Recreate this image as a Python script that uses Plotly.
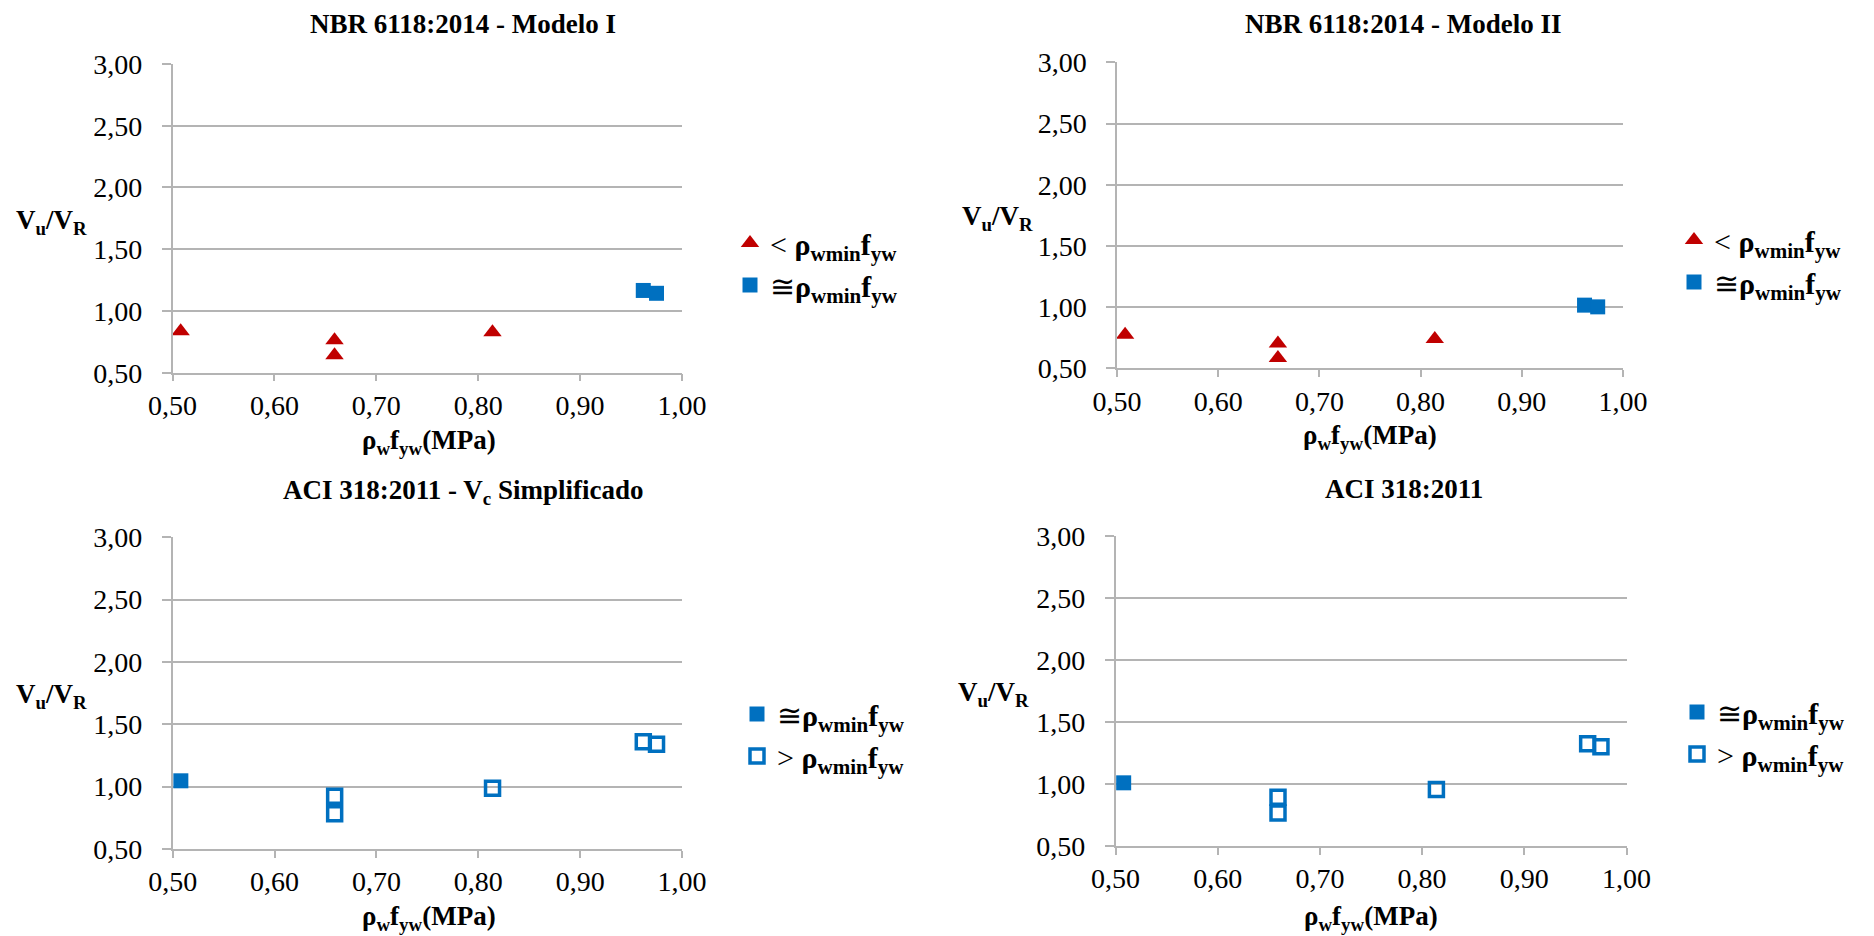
import plotly.graph_objects as go

# ---------------- data ----------------
x_vals = [0.508, 0.659, 0.659, 0.814, 0.962, 0.975]

# NBR 6118:2014 - Modelo I
p1_below_y = [0.835, 0.763, 0.641, 0.827]
p1_approx_y = [1.166, 1.143]
# NBR 6118:2014 - Modelo II
p2_below_y = [0.774, 0.703, 0.585, 0.739]
p2_approx_y = [1.016, 1.002]
# ACI 318:2011 - Vc Simplificado
p3_approx_y = [1.047]
p3_above_y = [0.924, 0.783, 0.987, 1.360, 1.340]
# ACI 318:2011
p4_approx_y = [1.010]
p4_above_y = [0.893, 0.766, 0.957, 1.326, 1.302]

titles = [
    "<b>NBR 6118:2014 - Modelo I</b>",
    "<b>NBR 6118:2014 - Modelo II</b>",
    "<b>ACI 318:2011 - V<sub>c</sub> Simplificado</b>",
    "<b>ACI 318:2011</b>",
]
name_below = "&lt; <b>ρ<sub>wmin</sub>f<sub>yw</sub></b>"
name_approx = "≅<b>ρ<sub>wmin</sub>f<sub>yw</sub></b>"
name_above = "&gt; <b>ρ<sub>wmin</sub>f<sub>yw</sub></b>"
y_title = "<b>V<sub>u</sub>/V<sub>R</sub></b>"
x_title = "<b>ρ<sub>w</sub>f<sub>yw</sub>(MPa)</b>"

x_ticks = [0.5, 0.6, 0.7, 0.8, 0.9, 1.0]
y_ticks = [0.5, 1.0, 1.5, 2.0, 2.5, 3.0]

# ---------------- layout helpers ----------------
W, H = 1874, 936
FONT = "Liberation Serif, Times New Roman, DejaVu Serif, serif"
RED = "#C00000"
BLUE = "#0070C0"
GRID = "#B4B4B4"


def px(x):
    return x / W


def py(y):
    return 1 - y / H


# plot-area pixel boxes in window coordinates: (left, right, top, bottom)
boxes = [
    (172.5, 682.0, 64.0, 372.7),
    (1117.0, 1623.0, 62.3, 368.3),
    (172.7, 682.0, 537.3, 849.0),
    (1115.5, 1626.5, 536.3, 846.0),
]
# titles: (x centre, y of box top)
title_pos = [(463, 8), (1403, 8), (463, 474), (1404, 473)]
ytitle_pos = [(51, 222), (997, 218), (51, 696), (994, 694)]
# x titles: (x centre, y, anchor)
xtitle_pos = [(429, 442, "middle"), (1370, 437, "middle"), (429, 936, "bottom"), (1371, 936, "bottom")]
legend_pos = [(730, 264), (1674, 261), (737, 735), (1677, 733)]

fig = go.Figure()

marker_tri = dict(symbol="triangle-up", size=16, color=RED)
marker_sq = dict(symbol="square", size=15, color=BLUE)
marker_open = dict(symbol="square-open", size=14, color=BLUE, line=dict(width=3.5, color=BLUE))

# Panel 1
fig.add_trace(go.Scatter(x=x_vals[:4], y=p1_below_y, mode="markers", marker=marker_tri,
                         name=name_below, xaxis="x", yaxis="y", legend="legend", cliponaxis=False))
fig.add_trace(go.Scatter(x=x_vals[4:], y=p1_approx_y, mode="markers", marker=marker_sq,
                         name=name_approx, xaxis="x", yaxis="y", legend="legend", cliponaxis=False))
# Panel 2
fig.add_trace(go.Scatter(x=x_vals[:4], y=p2_below_y, mode="markers", marker=marker_tri,
                         name=name_below, xaxis="x2", yaxis="y2", legend="legend2", cliponaxis=False))
fig.add_trace(go.Scatter(x=x_vals[4:], y=p2_approx_y, mode="markers", marker=marker_sq,
                         name=name_approx, xaxis="x2", yaxis="y2", legend="legend2", cliponaxis=False))
# Panel 3
fig.add_trace(go.Scatter(x=x_vals[:1], y=p3_approx_y, mode="markers", marker=marker_sq,
                         name=name_approx, xaxis="x3", yaxis="y3", legend="legend3", cliponaxis=False))
fig.add_trace(go.Scatter(x=x_vals[1:], y=p3_above_y, mode="markers", marker=marker_open,
                         name=name_above, xaxis="x3", yaxis="y3", legend="legend3", cliponaxis=False))
# Panel 4
fig.add_trace(go.Scatter(x=x_vals[:1], y=p4_approx_y, mode="markers", marker=marker_sq,
                         name=name_approx, xaxis="x4", yaxis="y4", legend="legend4", cliponaxis=False))
fig.add_trace(go.Scatter(x=x_vals[1:], y=p4_above_y, mode="markers", marker=marker_open,
                         name=name_above, xaxis="x4", yaxis="y4", legend="legend4", cliponaxis=False))

layout = dict(
    width=W, height=H,
    margin=dict(l=0, r=0, t=0, b=0, pad=0, autoexpand=False),
    paper_bgcolor="white", plot_bgcolor="white",
    separators=",.",
    font=dict(family=FONT, color="black"),
    annotations=[],
)

for i, (l, r, t, b) in enumerate(boxes):
    sfx = "" if i == 0 else str(i + 1)
    layout["xaxis" + sfx] = dict(
        domain=[px(l), px(r)], anchor="y" + sfx, range=[0.5, 1.0],
        tickvals=x_ticks, tickformat=".2f",
        showgrid=False, zeroline=False, showline=True, linecolor=GRID, linewidth=1.5,
        ticks="outside", ticklen=7, tickwidth=1.5, tickcolor=GRID,
        tickfont=dict(family=FONT, size=28, color="black"), ticklabelstandoff=0,
        automargin=False, fixedrange=True,
    )
    layout["yaxis" + sfx] = dict(
        domain=[py(b), py(t)], anchor="x" + sfx, range=[0.5, 3.0],
        tickvals=y_ticks, tickformat=".2f",
        showgrid=True, gridcolor=GRID, gridwidth=1.5, zeroline=False,
        showline=True, linecolor=GRID, linewidth=1.5,
        ticks="outside", ticklen=9, tickwidth=1.5, tickcolor=GRID,
        tickfont=dict(family=FONT, size=28, color="black"), ticklabelstandoff=14,
        automargin=False, fixedrange=True,
    )
    lkey = "legend" if i == 0 else "legend" + str(i + 1)
    lx, ly = legend_pos[i]
    layout[lkey] = dict(
        x=px(lx), y=py(ly), xanchor="left", yanchor="middle",
        xref="paper", yref="paper",
        font=dict(family=FONT, size=30, color="black"),
        bgcolor="rgba(0,0,0,0)", itemwidth=30, tracegroupgap=0,
    )
    tx, ty = title_pos[i]
    layout["annotations"].append(dict(
        text=titles[i], x=px(tx), y=py(ty), xref="paper", yref="paper",
        xanchor="center", yanchor="top", showarrow=False, borderpad=0,
        font=dict(family=FONT, size=27, color="black")))
    yx, yy = ytitle_pos[i]
    layout["annotations"].append(dict(
        text=y_title, x=px(yx), y=py(yy), xref="paper", yref="paper",
        xanchor="center", yanchor="middle", showarrow=False,
        font=dict(family=FONT, size=27, color="black")))
    xx, xy, xa = xtitle_pos[i]
    layout["annotations"].append(dict(
        text=x_title, x=px(xx), y=py(xy), xref="paper", yref="paper",
        xanchor="center", yanchor=xa, showarrow=False, borderpad=0,
        font=dict(family=FONT, size=27, color="black")))

fig.update_layout(**layout)
fig.write_html("out.html", config={"displayModeBar": False},
               post_script=["document.body.style.margin='0px';"])
